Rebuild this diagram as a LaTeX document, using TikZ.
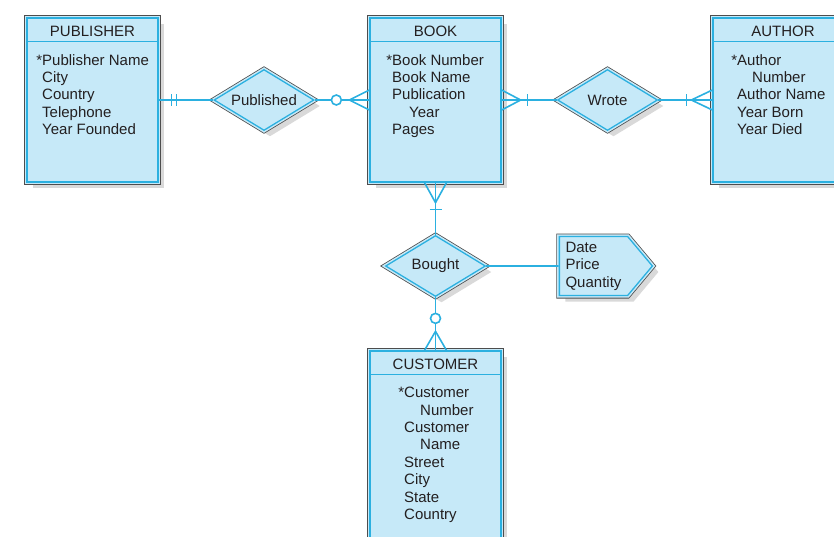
\documentclass[tikz,border=0pt]{standalone}
\usepackage{fontspec}
\setmainfont{Liberation Sans}
\usetikzlibrary{shapes.geometric,shapes.symbols,shadows}

\definecolor{erfill}{HTML}{C6E9F8}
\definecolor{erline}{HTML}{2BB0E0}
\definecolor{eredge}{HTML}{4D4D4D}
\definecolor{ertext}{HTML}{231F20}

\tikzset{
  framed/.style={drop shadow={shadow xshift=6pt,shadow yshift=-6pt,opacity=0.3},
    preaction={draw=eredge,line width=6pt},
    preaction={draw=erfill,line width=4.4pt},
    fill=erfill,draw=erline,line width=1.3pt},
  entity/.style={framed,rectangle,minimum width=131pt,minimum height=164pt,inner sep=0pt},
  relation/.style={framed,diamond,aspect=1.65,minimum width=100pt,minimum height=61pt,inner sep=0pt,
    text=ertext,font=\fontsize{15}{17.4}\selectfont},
  attrs/.style={framed,signal,signal to=east,signal pointer angle=100,
    minimum width=93pt,minimum height=59pt,inner sep=2pt,align=left,
    text=ertext,font=\fontsize{15}{17.4}\selectfont},
  title/.style={inner sep=0pt,text=ertext,font=\fontsize{15}{17.4}\selectfont},
  attrlist/.style={anchor=north west,inner sep=0pt,align=left,text=ertext,
    font=\fontsize{15}{17.4}\selectfont},
  erlink/.style={draw=erline,line width=1.6pt},
  headline/.style={draw=erline,line width=0.8pt}
}

\begin{document}
\begin{tikzpicture}[x=1pt,y=-1pt]
  \clip (0,0) rectangle (834,536);
  % entities
  \node[entity] (pub) at (92.5,100) {};
  \node[entity] (book) at (435.5,100) {};
  \node[entity] (author) at (778.5,100) {};
  \node[entity,minimum height=200pt] (cust) at (435.5,451) {};
  \draw[headline] ([yshift=-24pt]pub.north west) -- ([yshift=-24pt]pub.north east);
  \draw[headline] ([yshift=-24pt]book.north west) -- ([yshift=-24pt]book.north east);
  \draw[headline] ([yshift=-24pt]author.north west) -- ([yshift=-24pt]author.north east);
  \draw[headline] ([yshift=-24pt]cust.north west) -- ([yshift=-24pt]cust.north east);

  \node[title] (pubT) at (92.5,31) {PUBLISHER};
  \node[title] (bookT) at (435.5,31) {BOOK};
  \node[title] (authorT) at (783,31) {AUTHOR};
  \node[title] (custT) at (435.5,364) {CUSTOMER};

  \node[attrlist] (pubA) at (42,54) {\llap{*}Publisher Name\\City\\Country\\Telephone\\Year Founded};
  \node[attrlist] (bookA) at (392,54) {\llap{*}Book Number\\Book Name\\Publication\\\hspace*{17pt}Year\\Pages};
  \node[attrlist] (authorA) at (737,54) {\llap{*}Author\\\hspace*{15pt}Number\\Author Name\\Year Born\\Year Died};
  \node[attrlist] (custA) at (404,387) {\llap{*}Customer\\\hspace*{16pt}Number\\Customer\\\hspace*{16pt}Name\\Street\\City\\State\\Country};

  % relationships
  \node[relation] (published) at (264,100) {Published};
  \node[relation] (wrote) at (607.5,100) {Wrote};
  \node[relation] (bought) at (435.5,266) {Bought};
  \node[attrs] (boughtA) at (593.5,266) {Date\\Price\\Quantity};

  % connectors
  \draw[erlink] (pub) -- (published);
  \draw[erlink] (published) -- (book);
  \draw[erlink] (book) -- (wrote);
  \draw[erlink] (wrote) -- (author);
  \draw[erlink] (book) -- (bought);
  \draw[erlink] (bought) -- (cust);
  \draw[erlink] (bought) -- (boughtA);

  % publisher: one and only one
  \draw[erlink] ([xshift=13pt]pub.east) ++(0pt,6pt) -- ++(0pt,-12pt);
  \draw[erlink] ([xshift=18pt]pub.east) ++(0pt,6pt) -- ++(0pt,-12pt);
  % book at published: zero or many
  \draw[erlink,fill=white] ([xshift=-33pt]book.west) circle (5pt);
  \draw[erlink] ([yshift=10pt]book.west) -- ([xshift=-20pt]book.west) -- ([yshift=-10pt]book.west);
  % book at wrote: one or many
  \draw[erlink] ([yshift=10pt]book.east) -- ([xshift=19pt]book.east) -- ([yshift=-10pt]book.east);
  \draw[erlink] ([xshift=26pt]book.east) ++(0pt,6pt) -- ++(0pt,-12pt);
  % author: one or many
  \draw[erlink] ([xshift=-26pt]author.west) ++(0pt,6pt) -- ++(0pt,-12pt);
  \draw[erlink] ([yshift=10pt]author.west) -- ([xshift=-21pt]author.west) -- ([yshift=-10pt]author.west);
  % book at bought: one or many
  \draw[erlink] ([xshift=-11pt]book.south) -- ([yshift=-20pt]book.south) -- ([xshift=11pt]book.south);
  \draw[erlink] ([yshift=-27pt]book.south) ++(-6pt,0pt) -- ++(12pt,0pt);
  % customer: zero or many
  \draw[erlink,fill=white] ([yshift=32pt]cust.north) circle (5pt);
  \draw[erlink] ([xshift=-11pt]cust.north) -- ([yshift=19pt]cust.north) -- ([xshift=11pt]cust.north);
\end{tikzpicture}
\end{document}
